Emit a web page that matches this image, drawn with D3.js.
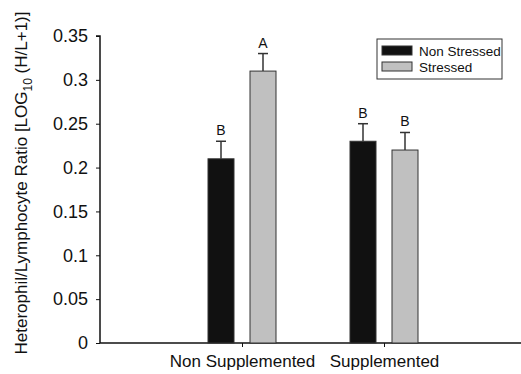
<!DOCTYPE html>
<html>
<head>
<meta charset="utf-8">
<script src="https://cdn.jsdelivr.net/npm/d3@7"></script>
<style>
  body { margin: 0; background: #fff; }
  svg text { font-family: Arial, "Liberation Sans", sans-serif; fill: #111; }
</style>
</head>
<body>
<svg id="chart" width="521" height="374"></svg>
<script>
// data
const groups = ['Non Supplemented', 'Supplemented'];
const series = ['Non Stressed', 'Stressed'];
const means = [[0.21, 0.31], [0.23, 0.22]];
const errors = [[0.02, 0.02], [0.02, 0.02]];
const letters = [['B', 'A'], ['B', 'B']];
const yTicks = [0, 0.05, 0.1, 0.15, 0.2, 0.25, 0.3, 0.35];
const fills = ['#111111', '#c0c0c0'];

const svg = d3.select('#chart');

// x positions: groups sit at 1 and 2 on a 0..3 axis
const x = d3.scaleLinear().domain([0, 3]).range([100, 526]);
const y = d3.scaleLinear().domain([0, 0.35]).range([343, 36]);
const barW = 26;
const offsets = [-21, 21];

// y axis
const yAxis = svg.append('g')
  .attr('transform', 'translate(100,0)')
  .call(d3.axisLeft(y).tickValues(yTicks).tickSize(4).tickPadding(8)
    .tickFormat(d => d3.format('')(+d.toFixed(2))));
yAxis.selectAll('text').style('font-size', '18px');
yAxis.select('.domain').attr('d', `M-4,${y(0.35)}H0V${y(0)}`);

// x axis
const xAxis = svg.append('g')
  .attr('transform', `translate(0,${y(0)})`)
  .call(d3.axisBottom(x).tickValues([1, 2]).tickSize(4).tickPadding(8)
    .tickFormat(d => groups[d - 1]));
xAxis.selectAll('text').style('font-size', '17px');
xAxis.select('.domain').attr('d', `M${x(0)},0H${x(3)}`);
svg.selectAll('.domain').attr('stroke', '#111').attr('stroke-width', 1.5);
svg.selectAll('.tick line').attr('stroke', '#111');

// bars
groups.forEach((g, gi) => {
  series.forEach((s, si) => {
    const cx = x(gi + 1) + offsets[si];
    const v = means[gi][si];
    const top = y(v + errors[gi][si]);
    svg.append('line')
      .attr('x1', cx).attr('x2', cx)
      .attr('y1', y(v)).attr('y2', top)
      .attr('stroke', '#333').attr('stroke-width', 1.5);
    svg.append('line')
      .attr('x1', cx - 5).attr('x2', cx + 5)
      .attr('y1', top).attr('y2', top)
      .attr('stroke', '#333').attr('stroke-width', 1.5);
    svg.append('rect')
      .attr('x', cx - barW / 2).attr('y', y(v))
      .attr('width', barW).attr('height', y(0) - y(v))
      .attr('fill', fills[si]).attr('stroke', '#333').attr('stroke-width', 1);
    svg.append('text')
      .attr('x', cx).attr('y', top - 6)
      .attr('text-anchor', 'middle')
      .style('font-size', '14px')
      .text(letters[gi][si]);
  });
});

// legend
const lg = svg.append('g').attr('transform', 'translate(377,39)');
lg.append('rect').attr('width', 125).attr('height', 40)
  .attr('fill', '#fff').attr('stroke', '#333').attr('stroke-width', 1);
series.forEach((s, i) => {
  lg.append('rect')
    .attr('x', 5).attr('y', 7 + i * 16)
    .attr('width', 30).attr('height', 9)
    .attr('fill', fills[i]).attr('stroke', '#333');
  lg.append('text')
    .attr('x', 42).attr('y', 17 + i * 16)
    .style('font-size', '13.5px')
    .text(s);
});

// y title
const title = svg.append('text')
  .attr('transform', 'translate(27,183) rotate(-90)')
  .attr('text-anchor', 'middle')
  .style('font-size', '17px');
title.append('tspan').text('Heterophil/Lymphocyte Ratio [LOG');
title.append('tspan').attr('dy', 5).style('font-size', '12px').text('10');
title.append('tspan').attr('dy', -5).text(' (H/L+1)]');
</script>
</body>
</html>
